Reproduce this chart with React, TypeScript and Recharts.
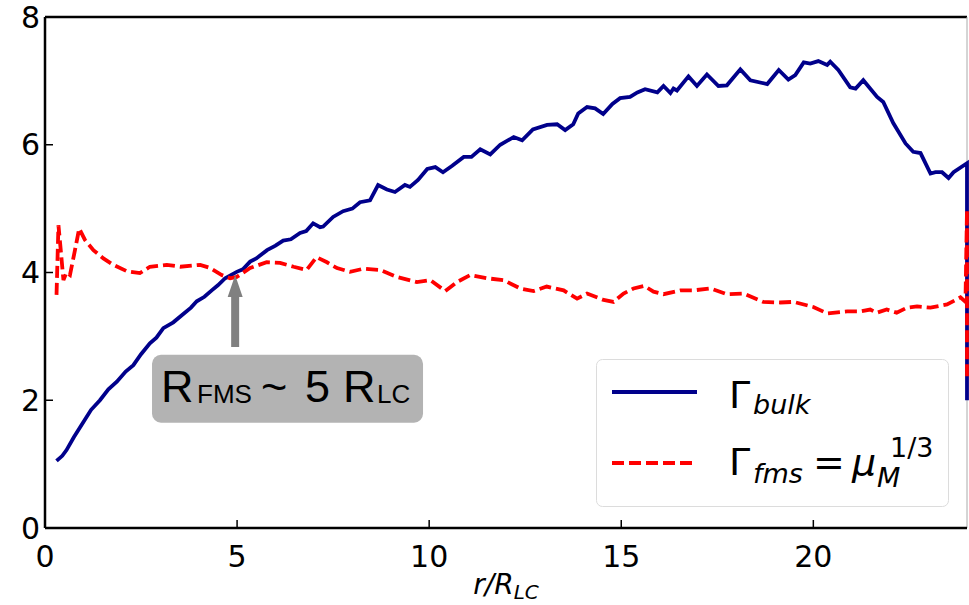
import React from 'react';
import { LineChart, Line, XAxis, YAxis, ReferenceLine, ReferenceDot } from 'recharts';

// radius in units of R_LC, Lorentz factors
const bulkR = [
  0.3, 0.45, 0.56, 0.75, 1.0, 1.2, 1.43, 1.65, 1.87, 2.1, 2.3, 2.5, 2.73, 2.9, 3.08, 3.34, 3.6, 3.8, 3.95, 4.15,
  4.34, 4.5, 4.69, 4.99, 5.15, 5.34, 5.5, 5.78, 6.0, 6.2, 6.4, 6.64, 6.8, 6.98, 7.16, 7.24, 7.5, 7.76, 8.0, 8.2,
  8.46, 8.67, 8.9, 9.11, 9.37, 9.5, 9.71, 9.95, 10.16, 10.36, 10.6, 10.9, 11.1, 11.33, 11.59, 11.85, 12.2, 12.42,
  12.7, 13.07, 13.33, 13.54, 13.75, 13.88, 14.11, 14.32, 14.53, 14.77, 14.97, 15.23, 15.42, 15.62, 15.94, 16.1,
  16.28, 16.36, 16.45, 16.75, 16.97, 17.23, 17.53, 17.75, 18.1, 18.36, 18.8, 19.1, 19.35, 19.53, 19.75, 19.92,
  20.13, 20.36, 20.44, 20.65, 20.96, 21.1, 21.3, 21.66, 21.82, 22.08, 22.4, 22.6, 22.79, 23.05, 23.18, 23.35,
  23.52, 23.65, 24.0, 24.0,
];
const bulkGamma = [
  1.05, 1.13, 1.22, 1.42, 1.66, 1.85, 2.0, 2.17, 2.29, 2.45, 2.55, 2.72, 2.89, 2.98, 3.13, 3.22, 3.35, 3.45, 3.55, 3.62,
  3.72, 3.8, 3.91, 4.01, 4.05, 4.17, 4.22, 4.35, 4.42, 4.5, 4.52, 4.62, 4.65, 4.77, 4.71, 4.72, 4.87, 4.96, 5.0, 5.1,
  5.13, 5.37, 5.3, 5.26, 5.37, 5.34, 5.45, 5.62, 5.65, 5.57, 5.67, 5.81, 5.81, 5.93, 5.85, 6.0, 6.12, 6.07,
  6.24, 6.31, 6.32, 6.23, 6.32, 6.49, 6.59, 6.57, 6.48, 6.64, 6.73, 6.75, 6.82, 6.87, 6.82, 6.92,
  6.81, 6.88, 6.85, 7.07, 6.92, 7.1, 6.92, 6.93, 7.18, 7.01, 6.95, 7.17, 7.02, 7.09, 7.29, 7.27,
  7.31, 7.25, 7.3, 7.17, 6.9, 6.88, 7.01, 6.75, 6.67, 6.34, 6.02, 5.89, 5.87, 5.55, 5.57, 5.57,
  5.48, 5.57, 5.71, 2.0,
];
const fmsR = [
  0.3, 0.35, 0.41, 0.48, 0.56, 0.65, 0.78, 0.89, 1.04, 1.26, 1.52, 1.78, 2.13, 2.47, 2.73, 3.17, 3.52, 4.04, 4.3,
  4.6, 4.82, 4.99, 5.34, 5.77, 6.12, 6.47, 6.81, 7.07, 7.34, 7.6, 7.94, 8.29, 8.72, 9.16, 9.68, 10.03, 10.42,
  10.72, 11.07, 11.5, 11.94, 12.37, 12.72, 13.06, 13.5, 13.85, 14.11, 14.54, 14.8, 15.06, 15.32, 15.6, 15.84,
  16.1, 16.54, 16.88, 17.32, 17.75, 18.18, 18.7, 19.14, 19.49, 20.0, 20.36, 20.88, 21.22, 21.48, 21.65, 21.91,
  22.17, 22.44, 22.7, 23.05, 23.48, 23.83, 23.96, 24.0, 24.0,
];
const fmsGamma = [
  3.65, 4.74, 4.35, 3.88, 4.0, 3.96, 4.35, 4.69, 4.51, 4.35, 4.22, 4.12, 4.02, 3.99, 4.09, 4.12, 4.09, 4.12, 4.07,
  3.96, 3.91, 3.93, 4.07, 4.16, 4.15, 4.09, 4.04, 4.24, 4.16, 4.07, 4.01, 4.06, 4.04, 3.93, 3.85, 3.88, 3.71,
  3.85, 3.96, 3.91, 3.88, 3.75, 3.71, 3.78, 3.72, 3.59, 3.67, 3.57, 3.54, 3.67, 3.75, 3.79, 3.7,
  3.66, 3.72, 3.72, 3.75, 3.66, 3.67, 3.54, 3.53, 3.54, 3.46, 3.36, 3.39, 3.39, 3.42, 3.37, 3.42,
  3.37, 3.45, 3.47, 3.45, 3.5, 3.61, 3.54, 4.98, 2.3,
];

const xTicks = [0, 5, 10, 15, 20];
const yTicks = [0, 2, 4, 6, 8];

// annotation anchors (data coords): arrow tip and text box centre
const arrowTip = { r: 4.95, g: 3.96 };
const boxAt = { r: 6.3, g: 2.18 };

const bulkData = bulkR.map((r, i) => ({ r, g: bulkGamma[i] }));
const fmsData = fmsR.map((r, i) => ({ r, g: fmsGamma[i] }));

const DEJAVU = '"DejaVu Sans", sans-serif';
const SANS = '"Liberation Sans", Arial, sans-serif';
const tickFont = { fill: '#000', fontSize: 30, fontFamily: DEJAVU };

function Arrow(p: any) {
  const { cx, cy } = p;
  const d = `M${cx},${cy} L${cx + 7.5},${cy + 22} L${cx + 4},${cy + 22} L${cx + 4},${cy + 72} L${cx - 4},${cy + 72} L${cx - 4},${cy + 22} L${cx - 7.5},${cy + 22} Z`;
  return <path d={d} fill="#808080" />;
}

function NoteBox(p: any) {
  const { cx, cy } = p;
  return (
    <g fontFamily={SANS} fill="#000">
      <rect x={cx - 135} y={cy - 34} width={271} height={68} rx={9} fill="#b3b3b3" />
      <text x={cx - 126} y={cy + 13} fontSize={45}>R</text>
      <text x={cx - 90} y={cy + 14} fontSize={26}>FMS</text>
      <text x={cx - 26} y={cy + 13} fontSize={45}>~</text>
      <text x={cx + 18} y={cy + 13} fontSize={45}>5</text>
      <text x={cx + 56} y={cy + 13} fontSize={45}>R</text>
      <text x={cx + 90} y={cy + 14} fontSize={26}>LC</text>
    </g>
  );
}

function AxisName(p: any) {
  const vb = p.viewBox || {};
  const x = vb.x + vb.width / 2;
  const y = vb.y + 66;
  return (
    <text x={x} y={y} textAnchor="middle" fontFamily={DEJAVU} fontStyle="italic" fill="#000" fontSize={28}>
      r/R<tspan fontSize={20} dy={5}>LC</tspan>
    </text>
  );
}

function LegendBox() {
  return (
    <svg width={354} height={149} style={{ position: 'absolute', left: 596, top: 359 }}>
      <rect x={0.5} y={0.5} width={352} height={147} rx={6} fill="#fff" stroke="#dcdcdc" />
      <line x1={16} x2={101} y1={33} y2={33} stroke="#00008b" strokeWidth={3.8} />
      <line x1={16} x2={101} y1={104} y2={104} stroke="#ff0000" strokeWidth={3.8} strokeDasharray="12 5" />
      <g fontFamily={DEJAVU} fill="#000">
        <text x={133} y={49} fontSize={38}>Γ</text>
        <text x={157} y={55} fontSize={27} fontStyle="italic">bulk</text>
        <text x={133} y={116} fontSize={38}>Γ</text>
        <text x={157} y={124} fontSize={27} fontStyle="italic">fms</text>
        <text x={217} y={116} fontSize={38}>=</text>
        <text x={256} y={116} fontSize={38} fontStyle="italic">μ</text>
        <text x={281} y={128} fontSize={27} fontStyle="italic">M</text>
        <text x={294} y={98} fontSize={27}>1/3</text>
      </g>
    </svg>
  );
}

export default function App() {
  return (
    <div style={{ position: 'absolute', left: 0, top: 0, width: 969, height: 605, background: '#fff' }}>
      <LineChart width={969} height={605} margin={{ top: 17, right: 2, bottom: 0, left: 0 }}>
        <XAxis
          type="number"
          dataKey="r"
          domain={[0, 24]}
          ticks={xTicks}
          height={77}
          tick={tickFont}
          tickSize={-8}
          tickMargin={26}
          axisLine={{ stroke: '#000', strokeWidth: 2.5 }}
          tickLine={{ stroke: '#000', strokeWidth: 1.5 }}
          label={{ content: AxisName }}
        />
        <YAxis
          type="number"
          domain={[0, 8]}
          ticks={yTicks}
          width={45}
          tick={tickFont}
          tickSize={-8}
          tickMargin={13}
          axisLine={{ stroke: '#000', strokeWidth: 2.5 }}
          tickLine={{ stroke: '#000', strokeWidth: 1.5 }}
        />
        <ReferenceLine y={8} stroke="#000" strokeWidth={2.5} />
        <ReferenceLine x={24} stroke="#aaaaaa" strokeWidth={1} />
        <Line
          data={bulkData}
          dataKey="g"
          type="linear"
          stroke="#00008b"
          strokeWidth={3.8}
          dot={false}
          isAnimationActive={false}
        />
        <Line
          data={fmsData}
          dataKey="g"
          type="linear"
          stroke="#ff0000"
          strokeWidth={3.8}
          strokeDasharray="12 5"
          dot={false}
          isAnimationActive={false}
        />
        <ReferenceDot x={arrowTip.r} y={arrowTip.g} r={0} shape={(p: any) => <Arrow {...p} />} />
        <ReferenceDot x={boxAt.r} y={boxAt.g} r={0} shape={(p: any) => <NoteBox {...p} />} />
      </LineChart>
      <LegendBox />
    </div>
  );
}
